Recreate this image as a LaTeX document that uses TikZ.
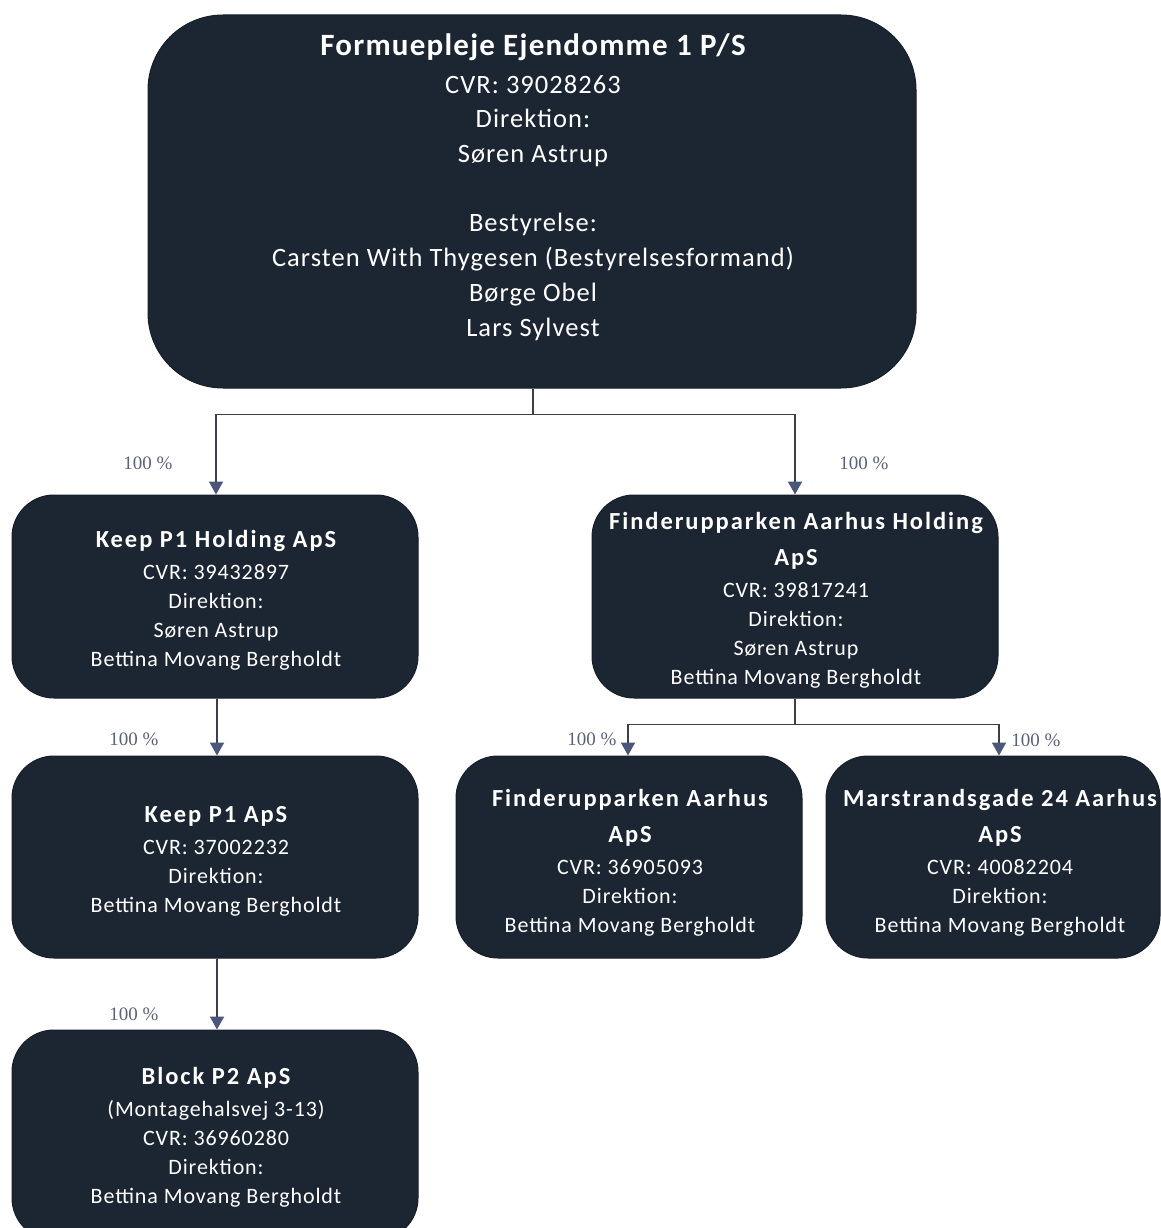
\documentclass[tikz,border=0pt]{standalone}
\usepackage{fontspec}
\setmainfont{Carlito}[LetterSpace=4]
\newfontfamily\boldsp{Carlito}[LetterSpace=8]
\newfontfamily\labfont{Liberation Serif}
\usetikzlibrary{arrows.meta,calc}
\definecolor{boxfill}{RGB}{28,37,50}
\definecolor{linec}{RGB}{60,62,72}
\definecolor{arrowc}{RGB}{76,86,122}
\definecolor{labc}{RGB}{92,98,118}
\tikzset{
  orgbox/.style={draw=boxfill!80!black, line width=1pt, fill=boxfill, rounded corners=42pt, inner sep=0pt},
  orgtxt/.style={text=white, align=center, inner sep=0pt, font=\fontsize{22}{29}\selectfont},
  conn/.style={draw=linec, line width=1.9pt},
  arr/.style={conn, -{Triangle[width=14pt,length=13pt,color=arrowc]}},
  pct/.style={text=labc, inner sep=0pt, font=\labfont\fontsize{19}{22}\selectfont}
}
\newcommand{\ttl}[1]{{\boldsp\bfseries\fontsize{24.5}{29}\selectfont #1}}
\begin{document}
\begin{tikzpicture}[x=1pt,y=-1pt]
\useasboundingbox (0,0) rectangle (1161,1228);
\clip (0,0) rectangle (1161,1228);
\fill[white] (0,0) rectangle (1161,1228);

% boxes
\node[orgbox, rounded corners=75pt, minimum width=768pt, minimum height=373pt] (top) at (532,201.5) {};
\node[orgbox, minimum width=406pt, minimum height=203pt] (kh) at (215,596.5) {};
\node[orgbox, minimum width=406pt, minimum height=203pt] (fh) at (795,596.5) {};
\node[orgbox, minimum width=406pt, minimum height=202pt] (k1) at (215,857) {};
\node[orgbox, minimum width=346pt, minimum height=202pt] (fa) at (629,857) {};
\node[orgbox, minimum width=334pt, minimum height=202pt] (ms) at (993,857) {};
\node[orgbox, minimum width=406pt, minimum height=210pt] (bp) at (215,1135) {};

% texts
\node[orgtxt, font=\fontsize{26.5}{34.7}\selectfont] (toptxt) at (533,187) {%
{\bfseries\fontsize{31}{34.7}\selectfont Formuepleje Ejendomme 1 P/S}\\[3pt]
CVR: 39028263\\
Direktion:\\
Søren Astrup\\[34.7pt]
Bestyrelse:\\
Carsten With Thygesen (Bestyrelsesformand)\\
Børge Obel\\
Lars Sylvest};

\node[orgtxt] (khtxt) at (216,600) {%
\ttl{Keep P1 Holding ApS}\\[3pt]
CVR: 39432897\\
Direktion:\\
Søren Astrup\\
Bettina Movang Bergholdt};

\node[orgtxt] (fhtxt) at (796,600.5) {%
\ttl{Finderupparken Aarhus Holding}\\[7pt]
\ttl{ApS}\\[3pt]
CVR: 39817241\\
Direktion:\\
Søren Astrup\\
Bettina Movang Bergholdt};

\node[orgtxt] (k1txt) at (216,861.5) {%
\ttl{Keep P1 ApS}\\[3pt]
CVR: 37002232\\
Direktion:\\
Bettina Movang Bergholdt};

\node[orgtxt] (fatxt) at (630,862.5) {%
\ttl{Finderupparken Aarhus}\\[7pt]
\ttl{ApS}\\[3pt]
CVR: 36905093\\
Direktion:\\
Bettina Movang Bergholdt};

\node[orgtxt] (mstxt) at (1000,862.5) {%
\ttl{Marstrandsgade 24 Aarhus}\\[7pt]
\ttl{ApS}\\[3pt]
CVR: 40082204\\
Direktion:\\
Bettina Movang Bergholdt};

\node[orgtxt] (bptxt) at (216,1137) {%
\ttl{Block P2 ApS}\\[3pt]
(Montagehalsvej 3-13)\\
CVR: 36960280\\
Direktion:\\
Bettina Movang Bergholdt};

% connectors
\coordinate (j1) at ($(top.south)+(1,26)$);
\draw[conn] ($(top.south)+(1,0)$) -- (j1);
\draw[arr] (j1) -| ($(kh.north)+(1,0)$);
\draw[arr] (j1) -| (fh.north);
\draw[arr] ($(kh.south)+(2,0)$) -- ($(k1.north)+(2,0)$);
\draw[arr] ($(k1.south)+(2,0)$) -- ($(bp.north)+(2,0)$);
\coordinate (j2) at ($(fh.south)+(0,26)$);
\draw[conn] (fh.south) -- (j2);
\draw[arr] (j2) -| ($(fa.north)+(-1,0)$);
\draw[arr] (j2) -| ($(ms.north)+(6,0)$);

% labels
\node[pct] (l1) at (148,463) {100 \%};
\node[pct] (l2) at (864,463) {100 \%};
\node[pct] (l3) at (134,739) {100 \%};
\node[pct] (l4) at (592,739) {100 \%};
\node[pct] (l5) at (1036,740) {100 \%};
\node[pct] (l6) at (134,1014) {100 \%};
\end{tikzpicture}
\end{document}
